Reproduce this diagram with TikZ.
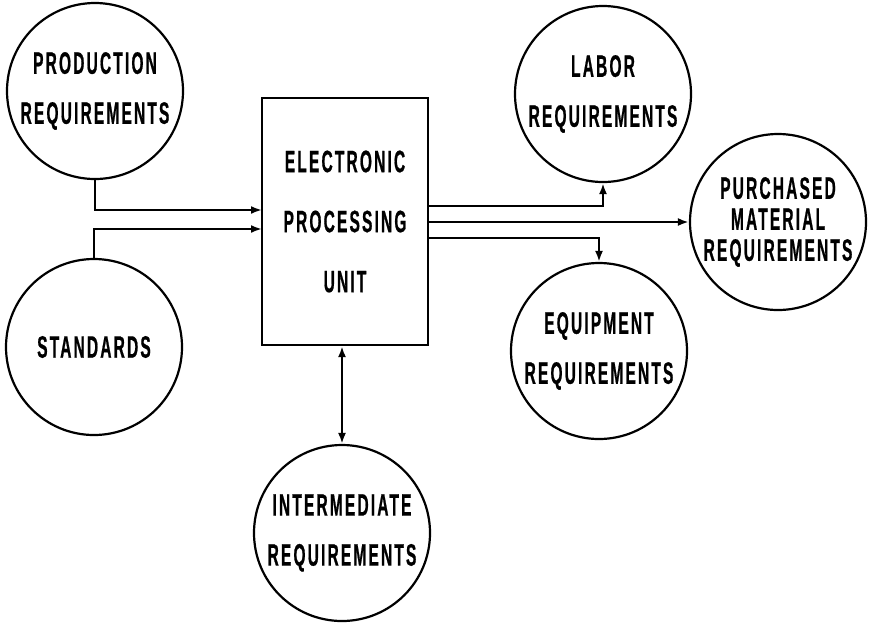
\documentclass[tikz,border=0pt]{standalone}
\usepackage{fontspec}
\usetikzlibrary{arrows.meta}
\newfontfamily\lbl{Liberation Sans}[FakeStretch=0.5,LetterSpace=7,FakeBold=0.6]
\tikzset{
  reqcircle/.style={circle, draw, line width=2.2pt, minimum size=176pt, inner sep=0pt,
    align=center, font=\lbl\bfseries\fontsize{31}{50}\selectfont},
  unitbox/.style={rectangle, draw, line width=2.2pt, minimum width=166pt, minimum height=247pt,
    inner sep=0pt, align=center, font=\lbl\bfseries\fontsize{31}{60}\selectfont},
  flow/.style={line width=2.2pt, -{Latex[length=11pt,width=8pt]}},
  flowboth/.style={line width=2.2pt, {Latex[length=11pt,width=8pt]}-{Latex[length=11pt,width=8pt]}}
}
\begin{document}
\begin{tikzpicture}[x=1pt,y=-1pt]
\useasboundingbox (0,0) rectangle (874,625);
\fill[white] (0,0) rectangle (874,625);

% processing unit
\node[unitbox] (epu) at (345,221.5) {ELECTRONIC\\PROCESSING\\UNIT};

% inputs
\node[reqcircle] (prod) at (95,91) {PRODUCTION\\REQUIREMENTS};
\node[reqcircle] (std) at (94,347) {STANDARDS};

% outputs
\node[reqcircle] (labor) at (603,94) {LABOR\\REQUIREMENTS};
\node[reqcircle, font=\lbl\bfseries\fontsize{31}{31}\selectfont] (purch) at (778,222) {PURCHASED\\MATERIAL\\REQUIREMENTS};
\node[reqcircle] (equip) at (599,351) {EQUIPMENT\\REQUIREMENTS};
\node[reqcircle] (inter) at (342,533) {INTERMEDIATE\\REQUIREMENTS};

% connection points on the unit
\coordinate (in1) at (262,210);
\coordinate (in2) at (262,229);
\coordinate (out1) at (428,206);
\coordinate (out2) at (428,222);
\coordinate (out3) at (428,238);

\draw[flow] (prod.south) |- (in1);
\draw[flow] (std.north) |- (in2);
\draw[flow] (out1) -| (labor.south);
\draw[flow] (out2) -- (purch.west);
\draw[flow] (out3) -| (equip.north);
\draw[flowboth] (inter.north |- epu.south) -- (inter.north);
\end{tikzpicture}
\end{document}
